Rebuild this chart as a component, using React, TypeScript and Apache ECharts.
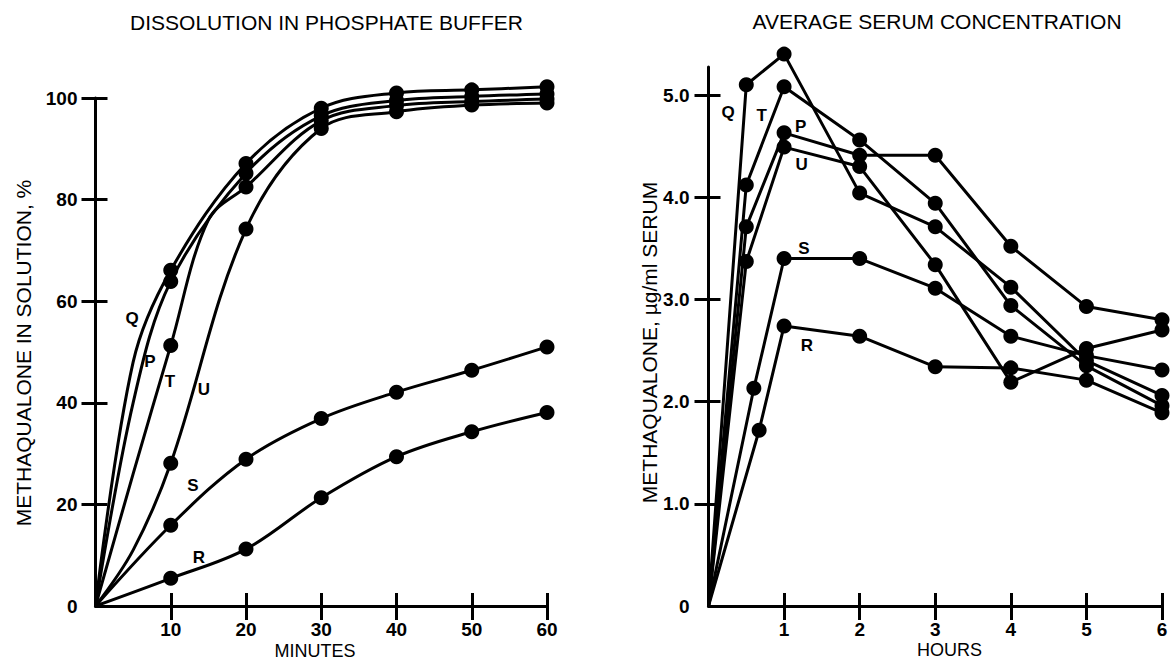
import React, { useEffect, useRef } from "react";
import * as echarts from "echarts";

// ---------- Left panel: dissolution in phosphate buffer ----------
const DISSOLUTION_MINUTES = [0, 5, 10, 15, 20, 30, 40, 50, 60];
const MARKED_MINUTES = [10, 20, 30, 40, 50, 60];
// null = no reading on that curve at that minute
const DISS_Q = [0, 48, 66.1, null, 87.1, 98.0, 101.0, 101.6, 102.2];
const DISS_P = [0, 40, 63.9, null, 85.2, 96.5, 99.5, 100.3, 100.8];
const DISS_T = [0, 26, 51.3, 76, 82.5, 95.5, 98.5, 99.3, 99.8];
const DISS_U = [0, 11, 28.1, null, 74.2, 94.0, 97.3, 98.6, 99.0];
const DISS_S = [0, null, 15.9, null, 28.9, 36.9, 42.1, 46.4, 51.0];
const DISS_R = [0, null, 5.45, null, 11.2, 21.3, 29.4, 34.3, 38.1];
const PCT_TICKS = [0, 20, 40, 60, 80, 100];
const MIN_TICKS = [10, 20, 30, 40, 50, 60];

// ---------- Right panel: average serum concentration ----------
const SERUM_HOURS = [0, 0.5, 1, 2, 3, 4, 5, 6];
const SERUM_HOURS_S = [0, 0.6, 1, 2, 3, 4, 5, 6];
const SERUM_HOURS_R = [0, 0.67, 1, 2, 3, 4, 5, 6];
const SERUM_Q = [0, 5.10, 5.40, 4.04, 3.71, 3.12, 2.40, 2.06];
const SERUM_T = [0, 4.12, 5.08, 4.56, 3.94, 2.94, 2.35, 1.96];
const SERUM_P = [0, 3.71, 4.63, 4.41, 4.41, 3.52, 2.93, 2.80];
const SERUM_U = [0, 3.37, 4.49, 4.30, 3.34, 2.19, 2.52, 2.70];
const SERUM_S = [0, 2.13, 3.40, 3.40, 3.11, 2.64, 2.45, 2.31];
const SERUM_R = [0, 1.72, 2.74, 2.64, 2.34, 2.33, 2.21, 1.89];
const CONC_TICKS = [1, 2, 3, 4, 5];
const CONC_LABELS = [0, 1, 2, 3, 4, 5];
const HOUR_TICKS = [1, 2, 3, 4, 5, 6];

const FONT = "'Liberation Sans', Arial, Helvetica, sans-serif";

function dissData(vals: (number | null)[]) {
  const out: any[] = [];
  vals.forEach((v, i) => {
    if (v === null) return;
    const m = DISSOLUTION_MINUTES[i];
    const marked = MARKED_MINUTES.indexOf(m) >= 0;
    out.push(marked ? { value: [m, v] } : { value: [m, v], symbol: "none" });
  });
  return out;
}

function serumData(hours: number[], vals: number[]) {
  return vals.map((v, i) =>
    hours[i] === 0 ? { value: [hours[i], v], symbol: "none" } : { value: [hours[i], v] }
  );
}

function label(text: string, x: number, y: number, size = 17, weight = "bold", rotation = 0) {
  return {
    type: "text",
    x,
    y,
    rotation,
    style: {
      text,
      fontFamily: FONT,
      fontSize: size,
      fontWeight: weight,
      fill: "#000",
      align: "center",
      verticalAlign: "middle",
    },
  };
}

export default function App() {
  const ref = useRef<HTMLDivElement>(null);

  useEffect(() => {
    document.body.style.margin = "0";
    if (!ref.current) return;
    const chart = echarts.init(ref.current, null, { renderer: "svg" });

    const axisLine = { show: true, lineStyle: { color: "#000", width: 3 } };
    const tickLabel = {
      fontFamily: FONT,
      fontSize: 19,
      fontWeight: "bold",
      color: "#000",
    };

    const xOuter = (grid: number, max: number, ticks: number[]) => ({
      type: "value",
      gridIndex: grid,
      min: 0,
      max,
      position: "bottom",
      axisLine,
      splitLine: { show: false },
      axisTick: {
        show: true,
        inside: false,
        length: 14,
        lineStyle: { color: "#000", width: 3 },
        customValues: ticks,
      },
      axisLabel: { ...tickLabel, margin: 14, customValues: ticks },
    });
    const xInner = (grid: number, max: number, ticks: number[]) => ({
      type: "value",
      gridIndex: grid,
      min: 0,
      max,
      position: "bottom",
      axisLine: { show: false },
      splitLine: { show: false },
      axisTick: {
        show: true,
        inside: true,
        length: 13,
        lineStyle: { color: "#000", width: 3 },
        customValues: ticks,
      },
      axisLabel: { show: false },
    });
    const yOuter = (grid: number, max: number, ticks: number[], labels: number[], fmt: any, margin: number) => ({
      type: "value",
      gridIndex: grid,
      min: 0,
      max,
      position: "left",
      axisLine,
      splitLine: { show: false },
      axisTick: {
        show: true,
        inside: false,
        length: 14,
        lineStyle: { color: "#000", width: 3 },
        customValues: ticks,
      },
      axisLabel: { ...tickLabel, margin, customValues: labels, formatter: fmt },
    });
    const yInner = (grid: number, max: number, ticks: number[]) => ({
      type: "value",
      gridIndex: grid,
      min: 0,
      max,
      position: "left",
      axisLine: { show: false },
      splitLine: { show: false },
      axisTick: {
        show: true,
        inside: true,
        length: 12,
        lineStyle: { color: "#000", width: 3 },
        customValues: ticks,
      },
      axisLabel: { show: false },
    });

    const lineBase = {
      type: "line",
      symbol: "circle",
      symbolSize: 15,
      clip: false,
      itemStyle: { color: "#000" },
      lineStyle: { color: "#000", width: 3 },
      emphasis: { disabled: true },
    };

    const leftSeries = [DISS_Q, DISS_P, DISS_T, DISS_U, DISS_S, DISS_R].map((vals) => ({
      ...lineBase,
      xAxisIndex: 0,
      yAxisIndex: 0,
      smooth: 0.35,
      data: dissData(vals),
    }));
    const rightSeries = [
      [SERUM_HOURS, SERUM_Q],
      [SERUM_HOURS, SERUM_T],
      [SERUM_HOURS, SERUM_P],
      [SERUM_HOURS, SERUM_U],
      [SERUM_HOURS_S, SERUM_S],
      [SERUM_HOURS_R, SERUM_R],
    ].map(([h, v]) => ({
      ...lineBase,
      xAxisIndex: 2,
      yAxisIndex: 2,
      data: serumData(h as number[], v as number[]),
    }));

    const serumMax = 5.274;

    chart.setOption({
      animation: false,
      backgroundColor: "#fff",
      grid: [
        { left: 95.5, top: 98, width: 451.5, height: 508 },
        { left: 708.5, top: 67, width: 453.5, height: 539 },
      ],
      xAxis: [
        xOuter(0, 60, MIN_TICKS),
        xInner(0, 60, MIN_TICKS),
        xOuter(1, 6, HOUR_TICKS),
        xInner(1, 6, HOUR_TICKS),
      ],
      yAxis: [
        yOuter(0, 100, PCT_TICKS.filter((t) => t > 0), PCT_TICKS, (v: number) => String(v), 18),
        yInner(0, 100, PCT_TICKS.filter((t) => t > 0)),
        yOuter(1, serumMax, CONC_TICKS, CONC_LABELS, (v: number) => (v === 0 ? "0" : v.toFixed(1)), 19),
        yInner(1, serumMax, CONC_TICKS),
      ],
      series: [...leftSeries, ...rightSeries],
      graphic: [
        label("DISSOLUTION IN PHOSPHATE BUFFER", 326.5, 22, 21, "normal"),
        label("AVERAGE SERUM CONCENTRATION", 937, 21, 21, "normal"),
        label("MINUTES", 315, 651, 18, "normal"),
        label("HOURS", 949.5, 650, 18, "normal"),
        label("METHAQUALONE IN SOLUTION, %", 23, 353, 21, "normal", Math.PI / 2),
        label("METHAQUALONE, µg/ml SERUM", 649.5, 342.5, 21, "normal", Math.PI / 2),
        label("Q", 132, 318),
        label("P", 150, 361),
        label("T", 170, 381),
        label("U", 204, 389),
        label("S", 193, 485),
        label("R", 199, 557),
        label("Q", 728, 112),
        label("T", 761.7, 115),
        label("P", 800.7, 126),
        label("U", 801.7, 164),
        label("S", 804, 248),
        label("R", 807, 345),
      ],
    });

    return () => chart.dispose();
  }, []);

  return <div ref={ref} style={{ width: 1171, height: 661 }} />;
}
